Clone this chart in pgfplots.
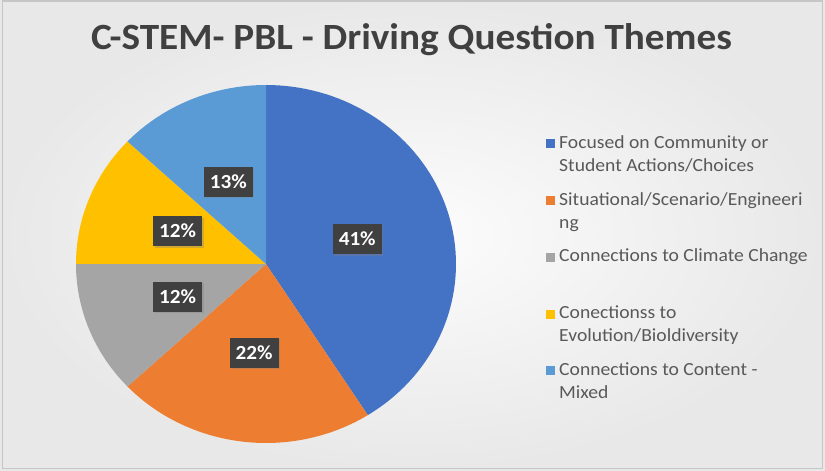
\documentclass[border=0pt]{standalone}
\usepackage{fontspec}
\setmainfont{Carlito}
\usepackage{pgfplots}
\usepackage{pgfplotstable}
\pgfplotsset{compat=1.18}
\usetikzlibrary{shadows}

\definecolor{cBlue}{HTML}{4472C4}
\definecolor{cOrange}{HTML}{ED7D31}
\definecolor{cGray}{HTML}{A5A5A5}
\definecolor{cYellow}{HTML}{FFC000}
\definecolor{cLight}{HTML}{5B9BD5}
\definecolor{labelbg}{HTML}{404040}
\definecolor{titlegray}{HTML}{404040}
\definecolor{legendgray}{HTML}{595959}

\pgfplotstableread{
share
41
22
12
12
13
}\pietable

\pgfplotsset{
  pielabel/.style={
    draw=none, mark=none, forget plot,
    point meta=explicit symbolic,
    nodes near coords={\scalebox{1.06}[1]{\pgfplotspointmeta\%}},
    every node near coord/.append style={anchor=center, fill=labelbg, text=white,
      font=\bfseries\fontsize{20}{23}\selectfont, inner xsep=6pt, inner ysep=8pt,
      drop shadow={opacity=0.35, shadow xshift=1.5pt, shadow yshift=-1.5pt}},
  }
}

\gdef\astart{90}
\newcommand\pieslice[2]{%
  \pgfplotstablegetelem{#1}{share}\of\pietable
  \let\sliceval\pgfplotsretval
  \pgfmathsetmacro\aend{\astart-3.6*\sliceval}%
  \gdef\pts{(0,0)}%
  \foreach \t in {0,...,72}{%
    \pgfmathsetmacro\a{\astart+(\aend-\astart)*\t/72}%
    \pgfmathsetmacro\px{cos(\a)}%
    \pgfmathsetmacro\py{sin(\a)}%
    \xdef\pts{\pts (\px,\py)}%
  }%
  \edef\doit{\noexpand\addplot[fill=#2,draw=none] coordinates {\pts (0,0)};}%
  \doit
  \xdef\astart{\aend}%
}
\newcommand\pielabel[1]{%
  \pgfplotstablegetelem{#1}{share}\of\pietable
  \let\sliceval\pgfplotsretval
  \pgfmathsetmacro\amid{\astart-1.8*\sliceval}%
  \pgfmathsetmacro\lx{0.5*cos(\amid)}%
  \pgfmathsetmacro\ly{0.5*sin(\amid)}%
  \edef\doit{\noexpand\addplot[pielabel] coordinates {(\lx,\ly) [\sliceval]};}%
  \doit
  \pgfmathsetmacro\aend{\astart-3.6*\sliceval}%
  \xdef\astart{\aend}%
}
% first line and second line of a legend entry (the second carries the gap below it)
\newcommand\lone[1]{\fontsize{18.5}{23}\selectfont\color{legendgray}\strut\scalebox{1.06}[1]{#1}}
\newcommand\ltwo[1]{\fontsize{18.5}{23}\selectfont\color{legendgray}\strut\scalebox{1.06}[1]{#1}\rule[-17.6pt]{0pt}{17.6pt}}

\begin{document}
\begin{tikzpicture}[x=1pt,y=1pt]
\shade[inner color=white!98!gray, outer color=gray!18] (0,0) rectangle (825,471);
\draw[gray!45, line width=1.2pt] (2.5,2.5) rectangle (822.5,470);
\node[anchor=base, font=\bfseries\fontsize{37}{40}\selectfont, text=titlegray] at (411.5,421) {\scalebox{1.06}[1]{C-STEM- PBL - Driving Question Themes}};
\begin{axis}[
  at={(266pt,207pt)}, anchor=center,
  scale only axis, width=380pt, height=358pt,
  xmin=-1, xmax=1, ymin=-1, ymax=1,
  hide axis, clip=false,
  legend style={at={(1.229,0.874)}, anchor=north west, draw=none, fill=none,
    row sep=0pt, column sep=4pt,
    nodes={inner sep=0pt, text depth=},
    cells={anchor=base west}},
  legend image code/.code={\path[#1] (0pt,0pt) rectangle (9pt,9pt);},
]
\pieslice{0}{cBlue}
\addlegendentry{\lone{Focused on Community or}}
\addlegendimage{empty legend}
\addlegendentry{\ltwo{Student Actions/Choices}}
\pieslice{1}{cOrange}
\addlegendentry{\lone{Situational/Scenario/Engineeri}}
\addlegendimage{empty legend}
\addlegendentry{\ltwo{ng}}
\pieslice{2}{cGray}
\addlegendentry{\lone{Connections to Climate Change}}
\addlegendimage{empty legend}
\addlegendentry{\ltwo{}}
\pieslice{3}{cYellow}
\addlegendentry{\lone{Conectionss to}}
\addlegendimage{empty legend}
\addlegendentry{\ltwo{Evolution/Bioldiversity}}
\pieslice{4}{cLight}
\addlegendentry{\lone{Connections to Content -}}
\addlegendimage{empty legend}
\addlegendentry{\ltwo{Mixed}}
\gdef\astart{90}
\pielabel{0}
\pielabel{1}
\pielabel{2}
\pielabel{3}
\pielabel{4}
\end{axis}
\end{tikzpicture}
\end{document}
